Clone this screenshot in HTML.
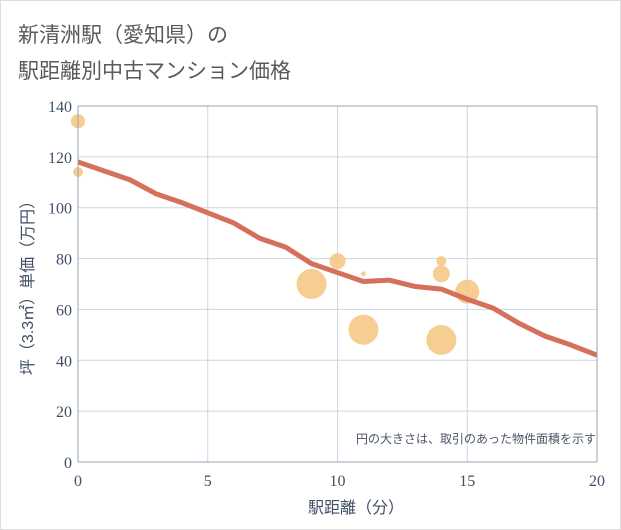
<!DOCTYPE html>
<html><head><meta charset="utf-8"><style>
body{margin:0;background:#fff;font-family:"Liberation Sans","Noto Sans CJK JP",sans-serif}
.wrap{position:relative;width:619px;height:528px;overflow:hidden;background:#fff;border:1px solid #ddd}
</style></head><body>
<div class="wrap">
<svg id="chart" width="621" height="530" style="position:absolute;left:-1px;top:-1px">
<text x="18" y="42" font-size="21" fill="#5a5a5a" font-family="Liberation Sans, Noto Sans CJK JP, sans-serif">新清洲駅（愛知県）の</text>
<text x="18" y="78" font-size="21" fill="#5a5a5a" font-family="Liberation Sans, Noto Sans CJK JP, sans-serif">駅距離別中古マンション価格</text>
<g id="grid"></g><g id="bubbles"></g><g id="line"></g><g id="axes"></g>
<text x="596" y="443" font-size="12" fill="#4a5568" text-anchor="end" font-family="Liberation Sans, Noto Sans CJK JP, sans-serif">円の大きさは、取引のあった物件面積を示す</text>
<text x="356" y="513" font-size="16" fill="#3f4f66" text-anchor="middle" font-family="Liberation Sans, Noto Sans CJK JP, sans-serif">駅距離（分）</text>
<text transform="translate(33,284) rotate(-90)" font-size="16" fill="#3f4f66" text-anchor="middle" font-family="Liberation Sans, Noto Sans CJK JP, sans-serif">坪（3.3㎡）単価（万円）</text>
</svg>
</div>
<script>
const xTicks=[0,5,10,15,20];
const yTicks=[0,20,40,60,80,100,120,140];
const lineX=[0,1,2,3,4,5,6,7,8,9,10,11,12,13,14,15,16,17,18,19,20];
const lineY=[118,114.5,111,105.5,102,98,94,88,84.5,78,74.5,71,71.5,69,68,64,60.5,54.5,49.5,46,42];
const bubX=[0,0,9,10,11,11,14,14,14,15];
const bubY=[134,114,70,79,74,52,79,74,48,67];
const bubArea=[50,25,225,64,6,225,25,72,225,144];
const L=78,R=597,T=106,B=462;
const sx=v=>L+(R-L)*v/20, sy=v=>B-(B-T)*v/140;
const NS="http://www.w3.org/2000/svg";
function mk(p,t,a){const e=document.createElementNS(NS,t);for(const k in a)e.setAttribute(k,a[k]);p.appendChild(e);return e;}
const g=document.getElementById('grid'),ax=document.getElementById('axes'),bb=document.getElementById('bubbles'),ln=document.getElementById('line');
yTicks.forEach(v=>{const l=mk(g,'line',{x1:L,x2:R,y1:sy(v),y2:sy(v),stroke:'#ccd6e3','stroke-width':1});


const t=mk(ax,'text',{x:L-6,y:sy(v)+6,'font-size':16,fill:'#3f4f66','text-anchor':'end','font-family':'Liberation Serif, serif'});t.textContent=v;

});
xTicks.forEach(v=>{const l=mk(g,'line',{x1:sx(v),x2:sx(v),y1:T,y2:B,stroke:'#ccd6e3','stroke-width':1});


const t=mk(ax,'text',{x:sx(v),y:B+24,'font-size':16,fill:'#3f4f66','text-anchor':'middle','font-family':'Liberation Serif, serif'});t.textContent=v;

});
const fr=mk(ax,'rect',{x:L,y:T,width:R-L,height:B-T,fill:'none',stroke:'#99a6b8','stroke-width':1});


bubX.forEach((x,i)=>{const c=mk(bb,'circle',{cx:sx(x),cy:sy(bubY[i]),r:Math.sqrt(bubArea[i]),fill:'#f5c67f','fill-opacity':0.85});

});
const p=mk(ln,'polyline',{points:lineX.map((x,i)=>sx(x)+','+sy(lineY[i])).join(' '),fill:'none',stroke:'#d5705a','stroke-width':5,'stroke-linejoin':'round'});


</script>
</body></html>
